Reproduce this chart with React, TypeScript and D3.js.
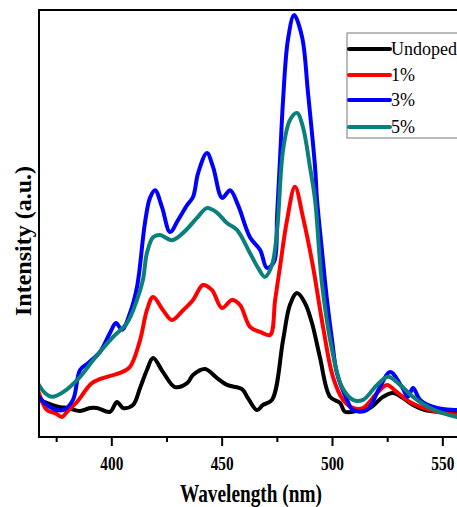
import React from "react";
import * as d3 from "d3";

// Photoluminescence emission spectra, intensity in arbitrary units (0–1000)
const seriesNames = ["Undoped", "1%", "3%", "5%"];
const seriesColors = ["#000000", "#ff0000", "#0000ff", "#0b7f7c"];

const undopedWl = [367, 372, 376.5, 380.1, 385.6, 390.1, 393.3, 399.2, 402.3, 405.1, 409.6, 412.8, 415.9, 418.7, 423.2, 428.6, 434.1, 436.8, 442.2, 447.7, 452.2, 459, 461.7, 465.8, 468.5, 472.6, 477.6, 480.7, 483.9, 487.5, 490.7, 494.3, 498.9, 503.4, 505.7, 512.5, 517, 522.9, 527.4, 532, 536.5, 541.9, 548.7, 556.4, 565];
const undopedI = [87, 77, 70, 68, 61, 68, 68, 59, 82, 68, 75, 115, 157, 185, 152, 117, 126, 145, 159, 138, 122, 112, 91, 63, 75, 87, 227, 309, 337, 314, 267, 187, 94, 80, 59, 63, 68, 94, 103, 91, 75, 63, 59, 56, 54];

const dope1Wl = [367, 370.6, 374.3, 377.4, 379.7, 384.2, 391, 397.8, 403.7, 408.2, 412.8, 415.9, 418.7, 423.2, 427.3, 432.3, 436.8, 441.3, 445.4, 449.9, 454.5, 458.1, 462.6, 467.2, 471.7, 474, 476.2, 479.4, 483, 486.6, 491.2, 495.7, 500.2, 504.8, 509.3, 513.8, 520.2, 524.7, 529.2, 535.1, 544.2, 556.4, 565];
const dope1I = [103, 63, 56, 47, 59, 82, 126, 141, 150, 164, 227, 297, 328, 297, 274, 297, 321, 356, 344, 302, 321, 309, 258, 246, 239, 321, 398, 508, 586, 515, 398, 258, 141, 87, 68, 68, 103, 122, 105, 82, 63, 52, 50];

const dope3Wl = [367, 372, 377.9, 382.4, 385.6, 389.2, 394.6, 399.2, 401.9, 404.6, 408.2, 411.4, 415, 417.3, 419.6, 422.7, 426.4, 430, 434.1, 436.8, 439.1, 443.1, 445.9, 450, 453.6, 457.2, 462.6, 467.2, 470.3, 473.5, 474.9, 476.2, 477.6, 479.8, 482.6, 486.2, 488.9, 492.1, 493, 495.2, 497.5, 499.8, 502, 506.6, 509.3, 515.6, 521.5, 526.1, 531.5, 534.2, 536.5, 539.7, 547.4, 556.4, 565];
const dope3I = [94, 70, 63, 87, 157, 173, 199, 244, 267, 251, 290, 351, 501, 560, 578, 539, 480, 508, 543, 562, 618, 665, 632, 560, 578, 543, 468, 438, 396, 410, 520, 649, 789, 930, 988, 937, 806, 632, 555, 438, 321, 227, 150, 87, 63, 63, 117, 152, 117, 94, 115, 87, 68, 63, 60];

const dope5Wl = [367, 369.7, 372.9, 377.9, 385.6, 391.5, 400.5, 406.9, 411.4, 414.1, 415.9, 418.7, 421.8, 427.3, 432.3, 438.6, 443.1, 447.7, 452.2, 456.7, 462.6, 466.3, 469.4, 472.6, 474.9, 477.6, 480.7, 483.9, 486.6, 489.8, 492.1, 495.2, 499.8, 504.3, 509.3, 513.8, 520.2, 525.2, 530.6, 536.5, 544.2, 556.4, 565];
const dope5I = [122, 103, 94, 105, 141, 180, 234, 267, 321, 368, 431, 468, 473, 461, 478, 513, 536, 525, 501, 485, 431, 396, 375, 403, 485, 672, 742, 759, 726, 632, 555, 361, 204, 117, 87, 87, 122, 141, 122, 94, 68, 47, 44];

const wavelengths = [undopedWl, dope1Wl, dope3Wl, dope5Wl];
const intensities = [undopedI, dope1I, dope3I, dope5I];

const majorTicks = [400, 450, 500, 550];
const minorTicks = [375, 425, 475, 525, 575];

const xTitle = "Wavelength (nm)";
const yTitle = "Intensity (a.u.)";

const W = 457;
const H = 507;
const left = 39;
const right = 498;
const top = 10;
const bottom = 437;

const serif = "'Liberation Serif', 'Times New Roman', Times, serif";

export default function App() {
  const x = d3.scaleLinear().domain([367, 575]).range([left, right]);
  const y = d3.scaleLinear().domain([0, 1000]).range([bottom, top]);

  const line = d3
    .line<[number, number]>()
    .x((d) => x(d[0]))
    .y((d) => y(d[1]))
    .curve(d3.curveCatmullRom.alpha(0.5));

  const paths = seriesNames.map((name, i) => {
    const pts: [number, number][] = wavelengths[i].map((w, j) => [w, intensities[i][j]]);
    return { name, color: seriesColors[i], d: line(pts) || "" };
  });

  const legendX = 347;
  const legendRows = [49, 75, 100, 127];

  return (
    <svg
      width={W}
      height={H}
      style={{ position: "absolute", left: 0, top: 0, display: "block", background: "#fff" }}
    >
      <defs>
        <clipPath id="plot-clip">
          <rect x={left} y={top} width={right - left} height={bottom - top} />
        </clipPath>
      </defs>
      <rect x={0} y={0} width={W} height={H} fill="#fff" />

      <g clipPath="url(#plot-clip)">
        {paths.map((p) => (
          <path
            key={p.name}
            d={p.d}
            fill="none"
            stroke={p.color}
            strokeWidth={4}
            strokeLinejoin="round"
            strokeLinecap="round"
          />
        ))}
      </g>

      {/* frame */}
      <rect
        x={left}
        y={top}
        width={right - left}
        height={bottom - top}
        fill="none"
        stroke="#000"
        strokeWidth={2}
      />

      {/* x ticks */}
      {majorTicks.map((t) => (
        <line key={"M" + t} x1={x(t)} x2={x(t)} y1={bottom} y2={bottom + 9} stroke="#000" strokeWidth={2} />
      ))}
      {minorTicks.map((t) => (
        <line key={"m" + t} x1={x(t)} x2={x(t)} y1={bottom} y2={bottom + 5} stroke="#000" strokeWidth={2} />
      ))}
      {majorTicks.map((t) => (
        <text
          key={"l" + t}
          x={x(t)}
          y={470}
          textAnchor="middle"
          fontFamily={serif}
          fontWeight="bold"
          fontSize={18}
          textLength={23}
          lengthAdjust="spacingAndGlyphs"
          fill="#000"
        >
          {t}
        </text>
      ))}

      <text
        x={251}
        y={502}
        textAnchor="middle"
        fontFamily={serif}
        fontWeight="bold"
        fontSize={25}
        textLength={142}
        lengthAdjust="spacingAndGlyphs"
        fill="#000"
      >
        {xTitle}
      </text>

      <text
        transform={`translate(31, 241) rotate(-90)`}
        textAnchor="middle"
        fontFamily={serif}
        fontWeight="bold"
        fontSize={24}
        textLength={150}
        lengthAdjust="spacingAndGlyphs"
        fill="#000"
      >
        {yTitle}
      </text>

      {/* legend */}
      <rect x={legendX} y={33} width={130} height={105} fill="#fff" stroke="#777" strokeWidth={1} />
      {seriesNames.map((name, i) => (
        <g key={name}>
          <line
            x1={legendX + 2}
            x2={legendX + 43}
            y1={legendRows[i]}
            y2={legendRows[i]}
            stroke={seriesColors[i]}
            strokeWidth={4}
            strokeLinecap="round"
          />
          <text
            x={legendX + 44}
            y={legendRows[i] + 6}
            fontFamily={serif}
            fontSize={18}
            fill="#000"
          >
            {name}
          </text>
        </g>
      ))}
    </svg>
  );
}
